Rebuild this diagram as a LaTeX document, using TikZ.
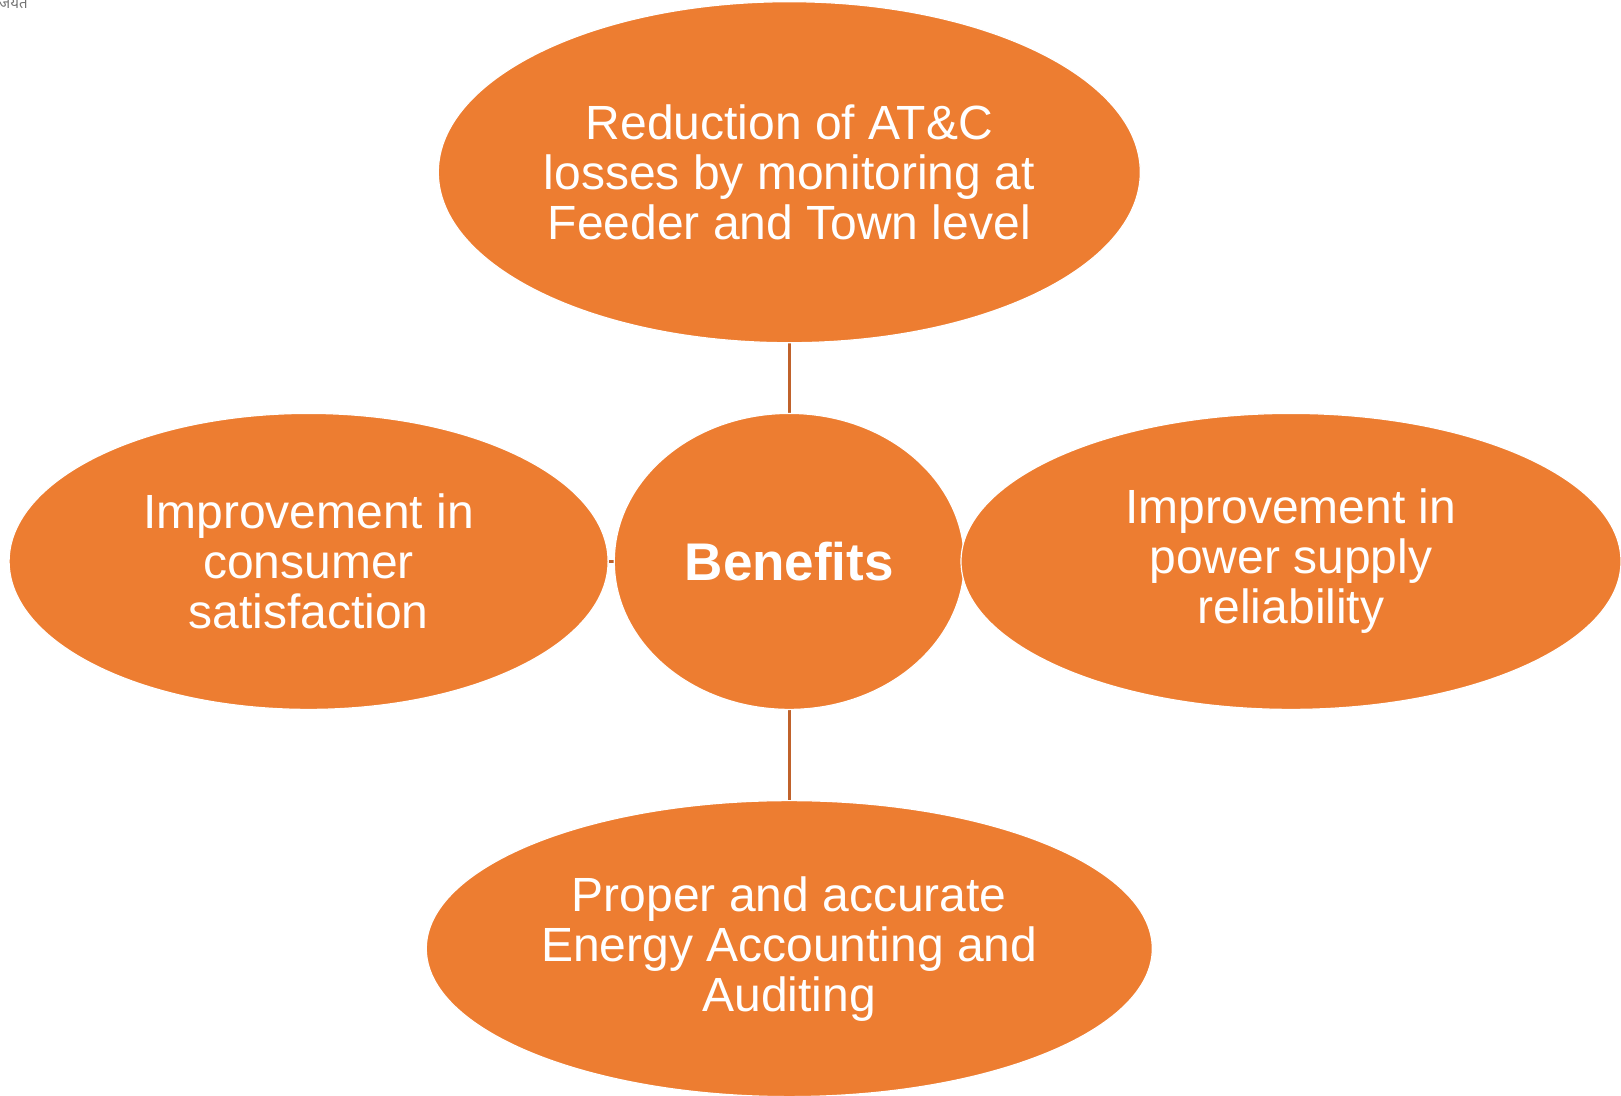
\documentclass[tikz,border=0pt]{standalone}
\usepackage{fontspec}
\setmainfont{Liberation Sans}
\newfontfamily\devafont[Script=Devanagari]{Noto Sans}
\usetikzlibrary{shapes.geometric,positioning,backgrounds}
\definecolor{benefitorange}{HTML}{ED7D31}
\definecolor{linkbrown}{HTML}{C0622B}

\begin{document}
\begin{tikzpicture}[x=1pt,y=1pt,
	bubble/.style={shape=ellipse,fill=benefitorange,draw=white,line width=1.2pt,inner sep=0pt,text=white,align=center,font=\fontsize{48}{50}\selectfont},
	link/.style={draw=linkbrown,line width=2.5pt}]
	\useasboundingbox (0,0) rectangle (1621,-1095);
	% create the nodes
	\node (stamp) [anchor=base west, inner sep=0pt, text=black!55, font=\devafont\fontsize{15}{15}\selectfont] at (-1,-8.5) {जयत};
	\node (hub) [bubble, minimum width=350pt, minimum height=296pt, font=\bfseries\fontsize{53}{60}\selectfont] at (789.3,-561.4) {Benefits};
	\node (losses) [bubble, above = 69.5pt of hub, minimum width=702pt, minimum height=341pt]{Reduction of AT\&C\\losses by monitoring at\\Feeder and Town level};
	\node (consumer) [bubble, left = 5pt of hub, minimum width=599pt, minimum height=296pt]{Improvement in\\consumer\\satisfaction};
	\node (supply) [bubble, right = -4.5pt of hub, minimum width=660pt, minimum height=296pt]{Improvement in\\power supply\\reliability};
	\node (audit) [bubble, below = 90pt of hub, minimum width=726pt, minimum height=296pt]{Proper and accurate\\Energy Accounting and\\Auditing};

	% connect the nodes
	\begin{scope}[on background layer]
	\draw[link] (hub) -- (losses);
	\draw[link] (hub) -- (audit);
	\draw[link] (hub) -- (consumer);
	\draw[link] (hub) -- (supply);
	\end{scope}
\end{tikzpicture}
\end{document}
